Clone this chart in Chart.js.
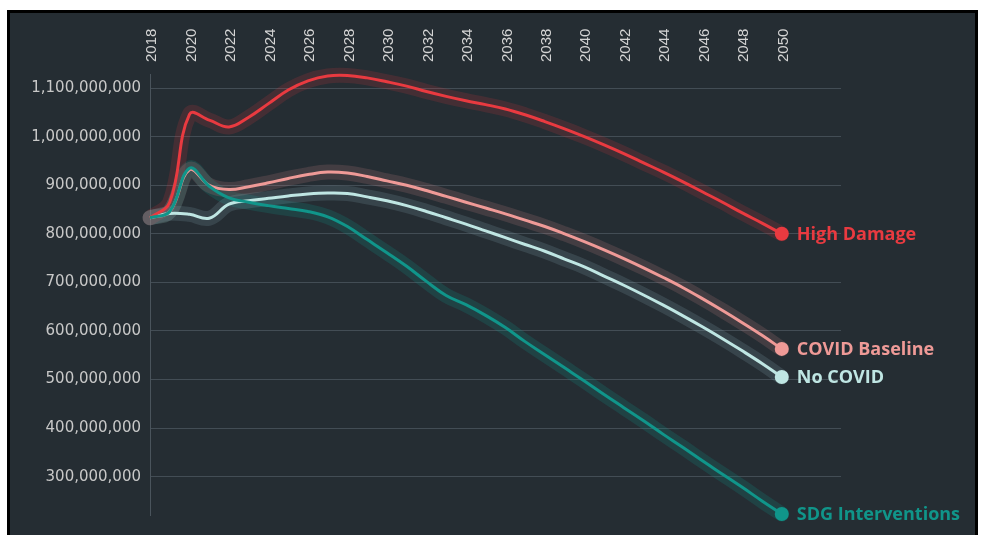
<!DOCTYPE html>
<html>
<head>
<meta charset="utf-8">
<script src="https://cdn.jsdelivr.net/npm/chart.js@4/dist/chart.umd.min.js"></script>
<style>
  body { margin: 0; background: #ffffff; }
  #frame {
    position: absolute;
    left: 7px;
    top: 10px;
    width: 965px;
    height: 530px;
    border: 3px solid #000000;
    background: #252d33;
  }
  #chartWrap { position: absolute; left: 0; top: 0; width: 965px; height: 522px; }
</style>
</head>
<body>
<div id="frame">
  <div id="chartWrap"><canvas id="chartPopulation"></canvas></div>
</div>
<script>
const years = [2018, 2019, 2020, 2021, 2022, 2023, 2024, 2025, 2026, 2027, 2028,
  2029, 2030, 2031, 2032, 2033, 2034, 2035, 2036, 2037, 2038, 2039,
  2040, 2041, 2042, 2043, 2044, 2045, 2046, 2047, 2048, 2049, 2050];

const yearTicks = [2018, 2020, 2022, 2024, 2026, 2028, 2030, 2032, 2034,
  2036, 2038, 2040, 2042, 2044, 2046, 2048, 2050];

const populationTicks = [300000000, 400000000, 500000000, 600000000, 700000000,
  800000000, 900000000, 1000000000, 1100000000];

const seriesNames = ["No COVID", "COVID Baseline", "High Damage", "SDG Interventions"];

// values in millions of people
const noCovid = [833, 842, 840, 832, 861, 868, 873, 878, 882, 884, 883,
  876, 868, 858, 846, 833, 820, 806, 792, 778, 764, 748,
  732, 713, 694, 674, 653, 631, 608, 584, 559, 533, 505];

const covidBaseline = [833, 846, 932, 900, 891, 897, 905, 914, 922, 927, 925,
  918, 909, 900, 889, 877, 865, 853, 841, 828, 815, 800,
  784, 767, 749, 730, 710, 689, 666, 642, 617, 591, 563];

const highDamage = [833, 865, 1046, 1034, 1020, 1040, 1068, 1096, 1115, 1125, 1126,
  1121, 1113, 1104, 1093, 1083, 1074, 1066, 1057, 1045, 1031, 1016,
  1000, 983, 965, 946, 927, 907, 886, 865, 843, 822, 800];

const sdgInterventions = [833, 846, 935, 898, 874, 865, 858, 852, 846, 835, 815,
  788, 761, 733, 702, 673, 654, 632, 607, 578, 551, 524,
  497, 469, 442, 415, 387, 360, 332, 305, 278, 250, 223];

const lineColors = ["#bfe6e3", "#ef9a97", "#e93a40", "#10958a"];
const glowColors = ["rgba(150, 185, 195, 0.17)", "rgba(239, 154, 151, 0.15)",
  "rgba(233, 58, 64, 0.16)", "rgba(16, 149, 138, 0.2)"];

const seriesValues = [noCovid, covidBaseline, highDamage, sdgInterventions];
const lastIndex = years.length - 1;

const toPoints = (values) => years.map((year, i) => ({ x: year, y: values[i] * 1000000 }));

const datasets = [];
seriesValues.forEach((values, i) => {
  // wide faint stroke behind each line
  datasets.push({
    label: seriesNames[i] + " glow",
    data: toPoints(values),
    borderColor: glowColors[i],
    borderWidth: 15,
    borderCapStyle: "round",
    tension: 0.4,
    pointRadius: 0,
    clip: false,
    order: 10,
    isGlow: true,
  });
});
seriesValues.forEach((values, i) => {
  datasets.push({
    label: seriesNames[i],
    data: toPoints(values),
    borderColor: lineColors[i],
    backgroundColor: lineColors[i],
    borderWidth: 3,
    tension: 0.4,
    pointRadius: (ctx) => (ctx.dataIndex === lastIndex ? 7 : 0),
    pointBorderWidth: 0,
    pointBackgroundColor: lineColors[i],
    clip: false,
    order: 4 - i,
  });
});

// names next to the last point of each line
const endLabels = {
  id: "endLabels",
  afterDatasetsDraw(chart) {
    const ctx = chart.ctx;
    ctx.save();
    ctx.font = "bold 18px 'Open Sans'";
    ctx.textBaseline = "middle";
    ctx.textAlign = "left";
    chart.data.datasets.forEach((ds, i) => {
      if (ds.isGlow) return;
      const meta = chart.getDatasetMeta(i);
      const pt = meta.data[lastIndex];
      ctx.fillStyle = ds.borderColor;
      ctx.fillText(ds.label, pt.x + 15, pt.y + 1);
    });
    ctx.restore();
  },
};

const chartPopulation = new Chart(document.querySelector("#chartPopulation"), {
  type: "line",
  data: { datasets: datasets },
  plugins: [endLabels],
  options: {
    responsive: true,
    maintainAspectRatio: false,
    animation: false,
    events: [],
    layout: { padding: { left: 0, top: 0, right: 134, bottom: 20 } },
    plugins: {
      legend: { display: false },
      tooltip: { enabled: false },
    },
    scales: {
      x: {
        type: "linear",
        position: "top",
        min: 2018,
        max: 2053,
        afterBuildTicks: (scale) => {
          scale.ticks = yearTicks.map((v) => ({ value: v }));
        },
        afterFit: (scale) => {
          scale.height = 61;
        },
        grid: { display: false, drawTicks: false },
        border: { display: false },
        ticks: {
          minRotation: 90,
          maxRotation: 90,
          padding: 12,
          labelOffset: 20,
          color: "#d4d4d4",
          font: { family: "'Liberation Sans'", size: 15 },
          callback: (value) => String(value),
        },
      },
      y: {
        min: 221000000,
        max: 1129000000,
        afterBuildTicks: (scale) => {
          scale.ticks = populationTicks.map((v) => ({ value: v }));
        },
        afterFit: (scale) => {
          scale.width = 140;
        },
        grid: { color: "#434d55", lineWidth: 1, drawTicks: false },
        border: { display: true, color: "#4a545c", width: 1 },
        ticks: {
          padding: 9,
          color: "#c8c8c8",
          font: { family: "'DejaVu Sans'", size: 15 },
          callback: (value) => value.toLocaleString("en-US"),
        },
      },
    },
  },
});
</script>
</body>
</html>
